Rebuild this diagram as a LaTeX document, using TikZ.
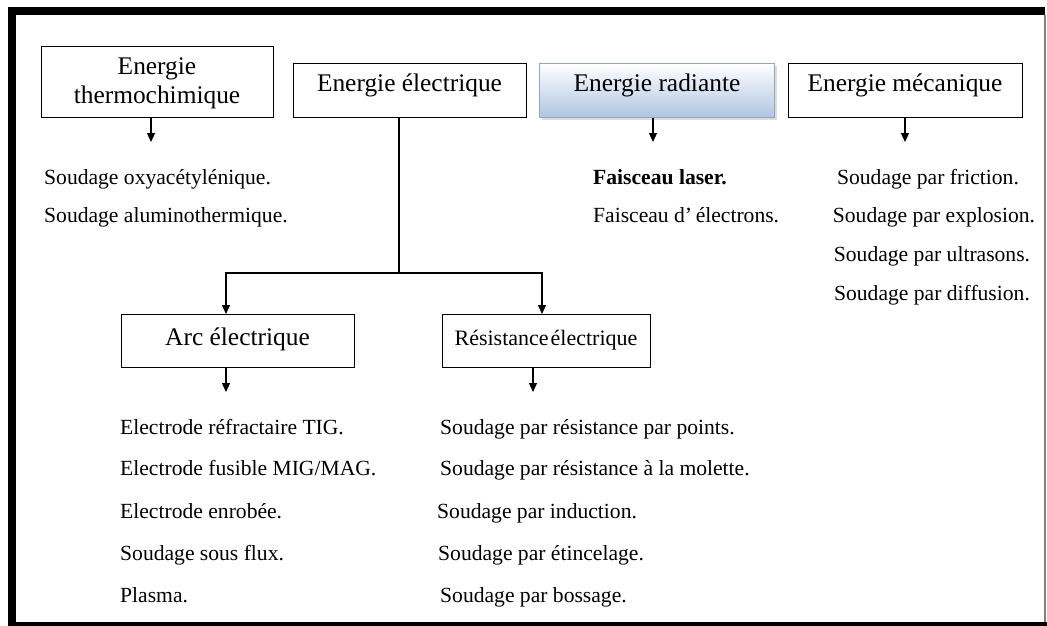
\documentclass[tikz,border=0pt]{standalone}
\usepackage{fontspec}
\setmainfont{Liberation Serif}
\usepackage{tikz}
\usetikzlibrary{arrows.meta, positioning, calc, shadows}
\definecolor{radtop}{RGB}{255,255,255}
\definecolor{radbot}{RGB}{176,196,226}
\definecolor{radedge}{RGB}{150,165,190}

\begin{document}
\begin{tikzpicture}[
    x=1pt, y=-1pt,
    energy/.style={draw, line width=0.8pt, align=center, anchor=north,
                   font=\fontsize{25.4}{28.5}\selectfont, inner ysep=2pt,
                   text height=26pt, text depth=24pt},
    item/.style={anchor=base west, inner sep=0pt, font=\fontsize{21.6}{25}\selectfont},
    itemc/.style={anchor=base, inner sep=0pt, font=\fontsize{21.6}{25}\selectfont},
    arr/.style={-{Triangle[length=9pt, width=8pt]}, line width=1.1pt}
]
\clip (0,0) rectangle (1047,626);
\useasboundingbox (0,0) rectangle (1047,626);
% frame
\fill (8,7) rectangle (1045,15);
\fill (8,7) rectangle (16,626);
\fill (8,622) rectangle (1047,626);
\draw[gray, line width=1.2pt] (1045,15) -- (1045,622);
% top row
\node[energy, minimum width=232pt, text height=55pt, text depth=12pt] (thermo) at (157,46) {Energie\\thermochimique};
\node[energy, minimum width=233pt] (elec) at (409.5,63) {Energie \'electrique};
\node[energy, minimum width=235pt, draw=radedge,
      top color=radtop, bottom color=radbot,
      drop shadow={shadow xshift=2.5pt, shadow yshift=-2.5pt, fill=gray!55}] (rad) at (657,63) {Energie radiante};
\node[energy, minimum width=234pt] (meca) at (905,63) {Energie m\'ecanique};
% second row
\node[energy, minimum width=233pt, text height=29pt, text depth=20pt] (arc) at (237.5,314) {Arc \'electrique};
\node[energy, minimum width=208pt, text height=29pt, text depth=20pt,
      font=\fontsize{22}{26}\selectfont] (res) at (546,314) {R\'esistance\hspace{2pt}\'electrique};
% thermochimique
\coordinate (thermoend) at (151,142);
\draw[arr] (thermo.south -| thermoend) -- (thermoend);
\node[item] (t1) at (44,184) {Soudage oxyac\'etyl\'enique.};
\node[item] (t2) at (44,222) {Soudage aluminothermique.};
% electrique
\coordinate (split) at (399,273);
\draw[line width=1.1pt] (elec.south -| split) -- (split);
\draw[arr] (split) -| (arc.north -| 226,0);
\draw[arr] (split) -| (res.north -| 542,0);
% radiante
\coordinate (radend) at (653,142);
\draw[arr] (rad.south -| radend) -- (radend);
\node[item, font=\fontsize{21.6}{25}\selectfont\bfseries] (r1) at (593,184) {Faisceau laser.};
\node[item] (r2) at (593,222) {Faisceau d'\,\'electrons.};
% mecanique
\coordinate (mecaend) at (905,142);
\draw[arr] (meca.south -| mecaend) -- (mecaend);
\node[itemc] (m1) at (928,184) {Soudage par friction.};
\node[itemc] (m2) at (934,222) {Soudage par explosion.};
\node[itemc] (m3) at (932,261) {Soudage par ultrasons.};
\node[itemc] (m4) at (932,300) {Soudage par diffusion.};
% arc
\coordinate (arcend) at (226,392);
\draw[arr] (arc.south -| arcend) -- (arcend);
\node[item] (a1) at (120,434) {Electrode r\'efractaire TIG.};
\node[item] (a2) at (120,475) {Electrode fusible MIG/MAG.};
\node[item] (a3) at (120,518) {Electrode enrob\'ee.};
\node[item] (a4) at (120,560) {Soudage sous flux.};
\node[item] (a5) at (120,602) {Plasma.};
% resistance
\coordinate (resend) at (533,392);
\draw[arr] (res.south -| resend) -- (resend);
\node[item] (e1) at (440,434) {Soudage par r\'esistance par points.};
\node[item] (e2) at (440,475) {Soudage par r\'esistance \`a la molette.};
\node[item] (e3) at (437,518) {Soudage par induction.};
\node[item] (e4) at (438,560) {Soudage par \'etincelage.};
\node[item] (e5) at (440,602) {Soudage par bossage.};
\end{tikzpicture}
\end{document}
